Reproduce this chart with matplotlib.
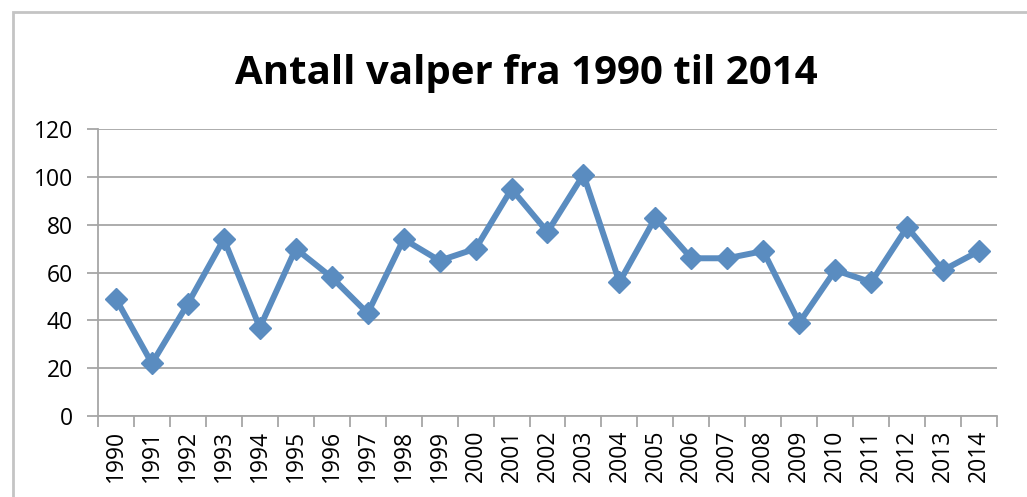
import matplotlib.pyplot as plt
from matplotlib.patches import Rectangle

# Data
years = [str(y) for y in range(1990, 2015)]
valper = [49, 22, 47, 74, 37, 70, 58, 43, 74, 65, 70, 95, 77, 101,
          56, 83, 66, 66, 69, 39, 61, 56, 79, 61, 69]
yticks = [0, 20, 40, 60, 80, 100, 120]

plt.rcParams['font.family'] = ['Open Sans', 'DejaVu Sans']

fig = plt.figure(figsize=(10.27, 4.97), dpi=100)
ax = fig.add_axes([0.0954, 0.163, 0.8754, 0.577])

grid_col = '#a6a6a6'
x = list(range(len(years)))
ax.plot(x, valper, color='#5a8cc0', linewidth=4.3, marker='D',
        markersize=11, zorder=3)

ax.set_xlim(-0.5, len(years) - 0.5)
ax.set_ylim(0, 120)
ax.set_yticks(yticks)
ax.set_yticklabels([str(v) for v in yticks], fontsize=16.5)
ax.yaxis.grid(True, color=grid_col, linewidth=1.3)
ax.set_axisbelow(True)

# category boundaries as major ticks, labels on minor ticks
ax.set_xticks([i - 0.5 for i in range(len(years) + 1)])
ax.set_xticklabels([])
ax.set_xticks(x, minor=True)
ax.set_xticklabels(years, minor=True, rotation=90, fontsize=16.5)
ax.tick_params(axis='x', which='minor', length=0, pad=10)
ax.tick_params(axis='x', which='major', length=8, color=grid_col, width=1.3)
ax.tick_params(axis='y', length=8, color=grid_col, width=1.3, pad=10)

for s in ['top', 'right']:
    ax.spines[s].set_visible(False)
for s in ['left', 'bottom']:
    ax.spines[s].set_color(grid_col)
    ax.spines[s].set_linewidth(1.3)

fig.text(0.5127, 0.853, 'Antall valper fra 1990 til 2014', ha='center',
         va='center', fontsize=29, fontweight='bold')

# outer chart frame
fig.patches.append(Rectangle((13 / 1027, -0.1), 1.2, 1.1 - 12 / 497,
                             transform=fig.transFigure, fill=False,
                             edgecolor='#c4c4c4', linewidth=2))

fig.savefig('out.png', dpi=100)
